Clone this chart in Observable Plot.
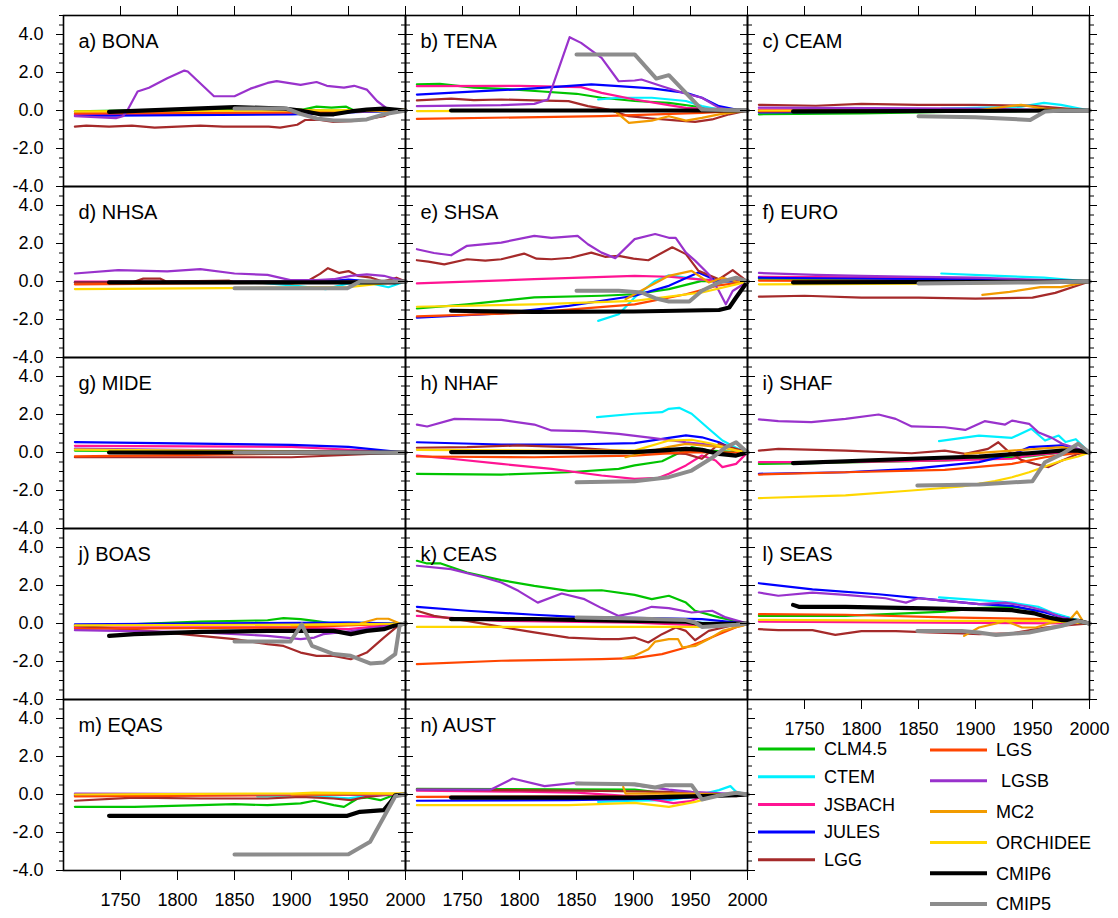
<!DOCTYPE html>
<html><head><meta charset="utf-8">
<script src="https://cdn.jsdelivr.net/npm/d3@7"></script>
<script src="https://cdn.jsdelivr.net/npm/@observablehq/plot@0.6"></script>
<style>
body{margin:0;background:#fff;}
#wrap{position:relative;width:1118px;height:918px;font-family:"Liberation Sans",Arial,Helvetica,sans-serif;}
#legend{position:absolute;left:0;top:0;pointer-events:none;}
</style></head><body><div id="wrap"></div>
<script>
// ---------- series / legend ----------
const models = ["CLM4.5","CTEM","JSBACH","JULES","LGG","LGS","LGSB","MC2","ORCHIDEE","CMIP6","CMIP5"];
const legendLabels = ["CLM4.5","CTEM","JSBACH","JULES","LGG","LGS"," LGSB","MC2","ORCHIDEE","CMIP6","CMIP5"];
const colors = ["#00c400","#00f0ff","#ff1493","#0000ff","#a52a2a","#ff4500","#9932cc","#f29b00","#ffd700","#000000","#8c8c8c"];
const panelNames = ["a) BONA","b) TENA","c) CEAM","d) NHSA","e) SHSA","f) EURO","g) MIDE","h) NHAF","i) SHAF","j) BOAS","k) CEAS","l) SEAS","m) EQAS","n) AUST"];
const xTicks = [1750,1800,1850,1900,1950,2000];
const yTicks = [-4,-2,0,2,4];
const yMinorTicks = [-3.5,-3,-2.5,-1.5,-1,-0.5,0.5,1,1.5,2.5,3,3.5,4.5,5];

// ---------- values per panel: [year, value] ----------
const BONA = {
 "CLM4.5":[[1710,-0.05],[1800,0.05],[1850,0.1],[1910,0.05],[1922,0.2],[1935,0.15],[1948,0.2],[1955,0.0],[1975,-0.05],[2000,0]],
 "CTEM":[[1870,0.05],[1950,0.0],[2000,0]],
 "JSBACH":[[1710,-0.2],[1900,-0.15],[2000,0]],
 "JULES":[[1710,-0.28],[1900,-0.2],[2000,0]],
 "LGG":[[1710,-0.85],[1720,-0.8],[1740,-0.85],[1760,-0.8],[1780,-0.9],[1800,-0.85],[1820,-0.8],[1840,-0.85],[1860,-0.85],[1880,-0.85],[1890,-0.9],[1905,-0.75],[1912,-0.5],[1925,-0.5],[1937,-0.6],[1955,-0.55],[1966,-0.45],[1981,-0.3],[1990,-0.05],[2000,0]],
 "LGS":[[1710,-0.15],[1900,-0.1],[2000,0]],
 "LGSB":[[1710,-0.3],[1746,-0.4],[1752,-0.3],[1756,0],[1765,1.0],[1775,1.2],[1791,1.7],[1806,2.1],[1809,2.05],[1832,0.75],[1850,0.75],[1864,1.15],[1879,1.45],[1887,1.55],[1908,1.35],[1922,1.5],[1931,1.3],[1946,1.2],[1955,1.3],[1966,1.1],[1975,0.5],[1985,0.05],[2000,0]],
 "MC2":[[1900,0.05],[1950,-0.05],[2000,0]],
 "ORCHIDEE":[[1710,-0.05],[1900,0],[2000,0.05]],
 "CMIP6":[[1740,-0.07],[1850,0.18],[1893,0.1],[1908,0.0],[1925,-0.2],[1937,-0.2],[1952,-0.05],[1966,0.05],[1981,0.1],[2000,0]],
 "CMIP5":[[1850,0.1],[1896,0.1],[1908,-0.18],[1922,-0.42],[1937,-0.52],[1952,-0.52],[1966,-0.47],[1981,-0.2],[2000,0]]
};
const TENA = {
 "CLM4.5":[[1710,1.37],[1730,1.4],[1760,1.2],[1790,1.12],[1820,1.0],[1850,0.88],[1872,0.67],[1901,0.5],[1931,0.4],[1950,0.25],[1966,0.1],[2000,0]],
 "CTEM":[[1869,0.58],[1887,0.67],[1916,0.67],[1946,0.5],[1960,0.23],[1975,0.05],[2000,0]],
 "JSBACH":[[1710,1.28],[1800,1.3],[1854,1.23],[1872,0.93],[1901,0.58],[1931,0.28],[1946,0.14],[1975,0.05],[2000,0]],
 "JULES":[[1710,0.84],[1754,0.98],[1813,1.16],[1863,1.37],[1887,1.28],[1916,1.16],[1946,0.93],[1960,0.67],[1975,0.23],[1990,0.05],[2000,0]],
 "LGG":[[1710,0.53],[1740,0.63],[1760,0.55],[1784,0.58],[1813,0.53],[1843,0.49],[1860,0.23],[1878,0.05],[1896,-0.3],[1916,-0.42],[1937,-0.52],[1954,-0.6],[1969,-0.47],[1984,-0.2],[2000,0]],
 "LGS":[[1710,-0.44],[1872,-0.3],[1960,-0.12],[2000,0]],
 "LGSB":[[1710,0.23],[1784,0.28],[1813,0.35],[1825,0.58],[1844,3.86],[1854,3.56],[1872,2.77],[1887,1.54],[1901,1.58],[1907,1.63],[1925,1.28],[1946,0.88],[1960,0.67],[1975,0.14],[1990,0],[2000,0]],
 "MC2":[[1884,-0.05],[1896,-0.65],[1916,-0.53],[1931,-0.3],[1946,-0.53],[1960,-0.39],[1975,-0.2],[2000,0]],
 "ORCHIDEE":[[1710,-0.03],[2000,0]],
 "CMIP6":[[1740,0],[2000,0]],
 "CMIP5":[[1850,2.95],[1901,2.95],[1920,1.68],[1931,1.86],[1960,0.05],[2000,0]]
};
const CEAM = {
 "CLM4.5":[[1710,-0.2],[1800,-0.15],[1900,-0.05],[2000,0]],
 "CTEM":[[1870,0.1],[1940,0.2],[1960,0.4],[1975,0.3],[2000,0]],
 "JSBACH":[[1710,0.05],[2000,0]],
 "JULES":[[1710,-0.1],[2000,0]],
 "LGG":[[1710,0.3],[1760,0.25],[1800,0.35],[1850,0.3],[1900,0.3],[1950,0.25],[1980,0.1],[2000,0]],
 "LGS":[[1710,-0.05],[2000,0]],
 "LGSB":[[1710,0.15],[1900,0.1],[2000,0]],
 "MC2":[[1900,0.0],[1940,0.3],[1960,0.1],[2000,0]],
 "ORCHIDEE":[[1710,0.0],[2000,0]],
 "CMIP6":[[1740,-0.05],[2000,0]],
 "CMIP5":[[1850,-0.3],[1900,-0.35],[1948,-0.5],[1961,-0.05],[1975,0],[2000,0]]
};
const NHSA = {
 "CLM4.5":[[1710,-0.05],[1900,0],[1950,0.05],[2000,0]],
 "CTEM":[[1870,-0.05],[1900,-0.2],[1930,-0.4],[1950,-0.1],[1970,-0.1],[1985,-0.3],[2000,0]],
 "JSBACH":[[1710,0],[1900,0],[2000,0]],
 "JULES":[[1710,-0.05],[1930,0],[1950,0.1],[1970,0],[2000,0]],
 "LGG":[[1710,-0.05],[1760,-0.05],[1770,0.15],[1785,0.15],[1790,0],[1845,0.05],[1850,-0.05],[1900,-0.1],[1915,0.05],[1925,0.4],[1932,0.7],[1942,0.45],[1950,0.55],[1958,0.3],[1970,0.2],[1980,0],[1992,0.2],[2000,0]],
 "LGS":[[1710,-0.15],[2000,0]],
 "LGSB":[[1710,0.42],[1748,0.6],[1791,0.53],[1820,0.65],[1850,0.42],[1879,0.35],[1899,0.07],[1922,0.07],[1937,0.12],[1952,0.3],[1966,0.38],[1981,0.3],[1995,0.07],[2000,0]],
 "MC2":[[1900,-0.1],[1950,0],[2000,0]],
 "ORCHIDEE":[[1710,-0.4],[1950,-0.3],[1980,-0.1],[2000,0]],
 "CMIP6":[[1740,-0.05],[1990,-0.05],[2000,0]],
 "CMIP5":[[1850,-0.35],[1949,-0.35],[1960,0],[2000,0]]
};
const SHSA = {
 "CLM4.5":[[1710,-1.42],[1754,-1.2],[1813,-0.84],[1872,-0.75],[1901,-0.67],[1931,-0.4],[1960,0.03],[2000,0]],
 "CTEM":[[1869,-2.07],[1887,-1.72],[1901,-0.84],[1919,0.03],[1931,0.33],[1946,0.2],[1960,0.1],[2000,0]],
 "JSBACH":[[1710,-0.1],[1813,0.12],[1901,0.3],[1931,0.25],[1960,0.1],[2000,0]],
 "JULES":[[1710,-1.9],[1784,-1.68],[1843,-1.28],[1901,-0.75],[1931,-0.23],[1957,0.47],[1975,0],[2000,0]],
 "LGG":[[1710,1.12],[1720,1.05],[1734,0.9],[1754,1.17],[1770,1.1],[1784,1.17],[1804,1.47],[1815,1.2],[1828,1.17],[1845,1.25],[1863,1.52],[1875,1.3],[1887,1.35],[1900,1.2],[1913,1.12],[1934,1.8],[1946,1.44],[1957,0.56],[1975,0.12],[1987,0.6],[2000,0]],
 "LGS":[[1710,-1.84],[1813,-1.63],[1901,-1.2],[1946,-0.67],[1975,-0.2],[2000,0]],
 "LGSB":[[1710,1.7],[1725,1.5],[1740,1.38],[1754,1.88],[1784,2.05],[1813,2.4],[1828,2.3],[1851,2.4],[1860,1.96],[1872,1.52],[1884,1.23],[1901,2.23],[1919,2.5],[1931,2.3],[1937,2.3],[1946,1.52],[1954,1.1],[1966,0.38],[1975,-0.5],[1981,-1.2],[1987,-0.5],[2000,0]],
 "MC2":[[1893,-0.93],[1901,-0.67],[1931,0.3],[1951,0.56],[1966,-0.05],[1978,0.2],[1990,0],[2000,0]],
 "ORCHIDEE":[[1710,-1.33],[1813,-1.2],[1901,-1.02],[1960,-0.58],[1990,-0.15],[2000,0]],
 "CMIP6":[[1740,-1.54],[1813,-1.6],[1900,-1.58],[1975,-1.5],[1984,-1.37],[1990,-0.84],[2000,0]],
 "CMIP5":[[1850,-0.49],[1887,-0.49],[1907,-0.58],[1919,-0.88],[1931,-1.05],[1949,-1.05],[1960,-0.49],[1975,-0.05],[1990,0.2],[2000,0]]
};
const EURO = {
 "CLM4.5":[[1710,0.15],[1900,0.1],[2000,0]],
 "CTEM":[[1870,0.42],[1920,0.3],[1960,0.2],[2000,0]],
 "JSBACH":[[1710,0.25],[1850,0.2],[2000,0]],
 "JULES":[[1710,0.2],[1900,0.1],[2000,0]],
 "LGG":[[1710,-0.8],[1750,-0.75],[1800,-0.85],[1850,-0.85],[1900,-0.9],[1950,-0.85],[1970,-0.6],[2000,0]],
 "LGS":[[1710,0.05],[2000,0]],
 "LGSB":[[1710,0.45],[1760,0.35],[1800,0.3],[1850,0.25],[1900,0.2],[1950,0.1],[2000,0]],
 "MC2":[[1906,-0.7],[1930,-0.55],[1957,-0.3],[1975,-0.3],[2000,0]],
 "ORCHIDEE":[[1710,-0.15],[1900,-0.1],[2000,0]],
 "CMIP6":[[1740,-0.05],[2000,0]],
 "CMIP5":[[1850,-0.1],[1950,-0.05],[2000,0]]
};
const MIDE = {
 "CLM4.5":[[1710,0.1],[2000,0]],
 "CTEM":[[1870,0.05],[2000,0]],
 "JSBACH":[[1710,0.35],[1900,0.3],[2000,0]],
 "JULES":[[1710,0.55],[1800,0.48],[1900,0.4],[1950,0.3],[2000,0]],
 "LGG":[[1710,-0.25],[1900,-0.25],[2000,0]],
 "LGS":[[1710,-0.2],[2000,0]],
 "LGSB":[[1710,0.2],[2000,0]],
 "MC2":[[1900,0.0],[2000,0]],
 "ORCHIDEE":[[1710,0.15],[2000,0]],
 "CMIP6":[[1740,0],[2000,0]],
 "CMIP5":[[1850,0],[2000,0]]
};
const NHAF = {
 "CLM4.5":[[1710,-1.12],[1784,-1.16],[1843,-1.04],[1887,-0.86],[1901,-0.68],[1925,-0.46],[1937,-0.1],[1951,0.28],[1966,0.1],[2000,0]],
 "CTEM":[[1868,1.86],[1901,2.04],[1925,2.12],[1931,2.3],[1940,2.35],[1951,2.04],[1966,1.25],[1978,0.63],[1990,0.25],[2000,0]],
 "JSBACH":[[1710,-0.16],[1740,-0.33],[1784,-0.6],[1828,-0.86],[1872,-1.21],[1901,-1.39],[1922,-1.33],[1931,-1.12],[1946,-0.68],[1960,-0.16],[1972,-0.42],[1978,-0.77],[1990,-0.6],[2000,0]],
 "JULES":[[1710,0.54],[1784,0.42],[1843,0.42],[1901,0.49],[1931,0.77],[1946,0.9],[1960,0.8],[1975,0.54],[1990,0.1],[2000,0]],
 "LGG":[[1710,0.25],[1754,0.28],[1798,0.37],[1843,0.28],[1863,0.19],[1900,0.05],[1946,-0.07],[1960,-0.33],[1975,0.46],[1990,0.2],[2000,0]],
 "LGS":[[1710,-0.21],[1813,-0.25],[1901,-0.16],[1946,0.02],[2000,0]],
 "LGSB":[[1710,1.47],[1719,1.37],[1743,1.77],[1784,1.72],[1813,1.47],[1828,1.16],[1857,1.12],[1887,0.98],[1916,0.77],[1946,0.54],[1975,0.37],[1990,0.1],[2000,0]],
 "MC2":[[1893,-0.25],[1931,0.3],[1946,0.45],[1975,0.3],[2000,0]],
 "ORCHIDEE":[[1710,0.14],[1813,0.1],[1901,0.1],[1931,0.63],[1951,0.67],[1969,0.46],[1990,0.1],[2000,0]],
 "CMIP6":[[1740,0.02],[1901,0.02],[1946,0.19],[1960,0.14],[1975,-0.07],[1990,-0.16],[2000,0]],
 "CMIP5":[[1850,-1.56],[1901,-1.51],[1931,-1.3],[1951,-0.95],[1969,-0.28],[1981,0.28],[1990,0.54],[2000,0]]
};
const SHAF = {
 "CLM4.5":[[1710,-0.6],[1756,-0.56],[1873,-0.42],[1947,-0.21],[1976,0],[2000,0]],
 "CTEM":[[1868,0.6],[1903,0.89],[1932,0.77],[1949,1.25],[1961,0.63],[1973,0.89],[1979,0.55],[1988,0.7],[2000,0]],
 "JSBACH":[[1710,-0.51],[1786,-0.51],[1873,-0.42],[1932,-0.33],[1947,-0.16],[1976,0],[2000,0]],
 "JULES":[[1710,-1.12],[1786,-1.04],[1844,-0.86],[1903,-0.51],[1932,-0.1],[1947,0.28],[1976,0.37],[1990,0.1],[2000,0]],
 "LGG":[[1710,0.1],[1727,0.19],[1786,0.1],[1844,-0.04],[1873,0.1],[1891,-0.07],[1911,0.19],[1920,0.54],[1928,0.1],[1940,-0.39],[1952,-0.6],[1964,-0.77],[1973,-0.5],[1990,-0.07],[2000,0]],
 "LGS":[[1710,-1.16],[1786,-1.04],[1873,-0.91],[1932,-0.6],[1961,-0.25],[1990,-0.02],[2000,0]],
 "LGSB":[[1710,1.74],[1727,1.65],[1756,1.6],[1786,1.77],[1815,2.0],[1830,1.77],[1844,1.37],[1873,1.33],[1891,1.19],[1908,1.65],[1926,1.47],[1932,1.68],[1947,1.51],[1955,1.07],[1967,0.77],[1976,0.46],[1990,0.2],[2000,0]],
 "MC2":[[1891,-0.07],[1932,0.1],[1976,0.28],[2000,0]],
 "ORCHIDEE":[[1710,-2.4],[1786,-2.26],[1844,-2.0],[1888,-1.79],[1917,-1.51],[1932,-1.3],[1947,-1.04],[1961,-0.74],[1976,-0.42],[1990,-0.21],[2000,0]],
 "CMIP6":[[1740,-0.56],[1786,-0.46],[1844,-0.33],[1903,-0.21],[1947,-0.04],[1976,0.1],[1990,0.1],[2000,0]],
 "CMIP5":[[1849,-1.74],[1903,-1.68],[1950,-1.51],[1961,-0.51],[1976,-0.07],[1990,0.46],[2000,0]]
};
const BOAS = {
 "CLM4.5":[[1710,-0.17],[1774,0],[1820,0.1],[1879,0.17],[1893,0.28],[1908,0.23],[1920,0.14],[1937,0],[2000,0]],
 "CTEM":[[1870,0],[1950,0.05],[2000,0]],
 "JSBACH":[[1710,-0.2],[1900,-0.2],[1950,-0.3],[2000,0]],
 "JULES":[[1710,-0.05],[1950,0.05],[2000,0]],
 "LGG":[[1710,-0.12],[1774,-0.39],[1820,-0.65],[1850,-0.82],[1879,-1.09],[1893,-1.18],[1908,-1.53],[1922,-1.7],[1937,-1.7],[1952,-1.88],[1966,-1.53],[1981,-0.74],[1995,-0.05],[2000,0]],
 "LGS":[[1710,-0.28],[1900,-0.2],[2000,0]],
 "LGSB":[[1710,-0.35],[1820,-0.47],[1879,-0.65],[1908,-0.82],[1920,-0.74],[1928,-0.56],[1952,-0.4],[2000,0]],
 "MC2":[[1900,-0.1],[1960,0],[1975,0.25],[1985,0.25],[1995,0],[2000,0]],
 "ORCHIDEE":[[1710,-0.1],[1950,-0.05],[2000,0]],
 "CMIP6":[[1740,-0.65],[1762,-0.56],[1820,-0.44],[1879,-0.39],[1937,-0.39],[1952,-0.56],[1966,-0.39],[1981,-0.3],[1990,-0.12],[2000,0]],
 "CMIP5":[[1850,-0.95],[1899,-0.95],[1909,-0.04],[1918,-1.18],[1937,-1.61],[1952,-1.7],[1969,-2.1],[1981,-2.05],[1991,-1.61],[1995,-0.05],[2000,0]]
};
const CEAS = {
 "CLM4.5":[[1710,3.3],[1719,3.16],[1731,3.16],[1754,2.68],[1784,2.28],[1813,1.98],[1843,1.72],[1872,1.75],[1901,1.51],[1916,1.28],[1931,1.46],[1946,1.1],[1954,0.67],[1975,0.32],[2000,0]],
 "CTEM":[[1870,0.1],[1950,0.05],[2000,0]],
 "JSBACH":[[1710,0.4],[1784,0.14],[1901,0.05],[1960,-0.1],[2000,0]],
 "JULES":[[1710,0.88],[1754,0.67],[1813,0.46],[1849,0.35],[1900,0.3],[1960,0.23],[2000,0]],
 "LGG":[[1710,0.67],[1725,0.4],[1754,0.14],[1784,-0.18],[1813,-0.47],[1843,-0.74],[1872,-0.82],[1887,-0.82],[1901,-0.74],[1913,-1.0],[1925,-0.56],[1937,-0.21],[1946,-0.39],[1954,-0.88],[1966,-0.39],[1990,-0.05],[2000,0]],
 "LGS":[[1710,-2.14],[1784,-1.96],[1872,-1.88],[1901,-1.82],[1925,-1.61],[1946,-1.26],[1960,-0.95],[1975,-0.56],[1990,-0.2],[2000,0]],
 "LGSB":[[1710,3.04],[1740,2.86],[1769,2.42],[1784,2.16],[1799,1.72],[1816,1.1],[1837,1.58],[1857,1.28],[1872,0.81],[1887,0.4],[1901,0.58],[1916,0.88],[1931,0.81],[1951,0.58],[1969,0.67],[1981,0.32],[2000,0]],
 "MC2":[[1891,-1.82],[1901,-1.7],[1913,-1.35],[1919,-0.95],[1931,-0.82],[1939,-0.82],[1943,-1.26],[1954,-1.18],[1966,-0.82],[1978,-0.39],[1990,-0.2],[1996,-0.12],[2000,0]],
 "ORCHIDEE":[[1710,-0.18],[1960,-0.18],[2000,0]],
 "CMIP6":[[1740,0.23],[1813,0.23],[1901,0.14],[1946,0.1],[1960,-0.03],[2000,0]],
 "CMIP5":[[1850,0.32],[1901,0.26],[1946,0.18],[1954,0.05],[1960,-0.18],[1990,-0.07],[2000,0]]
};
const SEAS = {
 "CLM4.5":[[1710,0.4],[1786,0.4],[1874,0.63],[1903,0.81],[1932,0.88],[1961,0.63],[2000,0]],
 "CTEM":[[1868,1.37],[1903,1.23],[1932,1.1],[1955,0.88],[1967,0.58],[2000,0]],
 "JSBACH":[[1710,0.1],[2000,0]],
 "JULES":[[1710,2.12],[1757,1.8],[1815,1.54],[1859,1.28],[1903,1.02],[1932,0.93],[1961,0.58],[1976,0.32],[2000,0]],
 "LGG":[[1710,-0.3],[1727,-0.35],[1757,-0.35],[1777,-0.6],[1800,-0.4],[1830,-0.4],[1859,-0.47],[1888,-0.52],[1903,-0.56],[1932,-0.52],[1961,-0.21],[1976,-0.12],[2000,0]],
 "LGS":[[1710,0.49],[1786,0.46],[1874,0.32],[1961,0.23],[2000,0]],
 "LGSB":[[1710,1.63],[1727,1.46],[1757,1.63],[1786,1.51],[1821,1.33],[1839,1.1],[1850,1.33],[1874,1.19],[1903,1.02],[1926,1.1],[1947,0.88],[1961,0.67],[1976,0.32],[2000,0]],
 "MC2":[[1890,-0.65],[1903,-0.21],[1918,0],[1926,0.14],[1941,-0.21],[1953,-0.21],[1967,0.05],[1982,0.14],[1989,0.63],[1994,0.14],[2000,0]],
 "ORCHIDEE":[[1710,0.19],[1874,0.14],[1961,0.14],[2000,0]],
 "CMIP6":[[1740,0.98],[1745,0.88],[1786,0.88],[1844,0.81],[1903,0.75],[1932,0.7],[1952,0.53],[1967,0.28],[1976,0.18],[1990,0.14],[2000,0]],
 "CMIP5":[[1849,-0.39],[1888,-0.39],[1903,-0.47],[1918,-0.6],[1947,-0.47],[1961,-0.3],[1976,-0.12],[1990,0.14],[2000,0]]
};
const EQAS = {
 "CLM4.5":[[1710,-0.65],[1762,-0.65],[1820,-0.56],[1850,-0.51],[1879,-0.56],[1908,-0.47],[1920,-0.33],[1937,-0.56],[1946,-0.65],[1958,-0.21],[1966,-0.16],[1978,-0.3],[1987,-0.09],[2000,0]],
 "CTEM":[[1870,-0.1],[1920,-0.1],[1950,-0.2],[1970,-0.05],[2000,0]],
 "JSBACH":[[1710,0],[2000,0]],
 "JULES":[[1710,-0.05],[2000,0]],
 "LGG":[[1710,-0.33],[1762,-0.16],[1820,-0.21],[1879,-0.21],[1908,-0.12],[1937,-0.21],[1952,-0.3],[1966,-0.12],[1981,-0.04],[2000,0]],
 "LGS":[[1710,-0.1],[2000,0]],
 "LGSB":[[1710,0.05],[2000,0]],
 "MC2":[[1900,0],[2000,0.05]],
 "ORCHIDEE":[[1710,0],[1900,0.05],[1920,0.1],[2000,0.05]],
 "CMIP6":[[1740,-1.12],[1949,-1.12],[1960,-0.91],[1972,-0.86],[1981,-0.82],[1987,-0.39],[1991,-0.04],[2000,0]],
 "CMIP5":[[1850,-3.16],[1950,-3.14],[1969,-2.49],[1981,-1.18],[1991,-0.09],[2000,0]]
};
const AUST = {
 "CLM4.5":[[1710,0.3],[1901,0.26],[1931,0.05],[1960,-0.03],[2000,0]],
 "CTEM":[[1869,-0.39],[1901,-0.33],[1931,-0.3],[1951,-0.12],[1975,0.23],[1985,0.44],[1990,0.14],[2000,0]],
 "JSBACH":[[1710,0.2],[1800,0.15],[1850,0.1],[1900,-0.1],[1920,-0.3],[1935,-0.45],[1950,-0.35],[1960,-0.1],[2000,0]],
 "JULES":[[1710,-0.33],[1843,-0.3],[1931,-0.21],[2000,0]],
 "LGG":[[1710,0.26],[1784,0.23],[1872,0.19],[1931,0.14],[1960,0.02],[1990,-0.09],[2000,0]],
 "LGS":[[1710,-0.12],[1900,-0.1],[2000,0]],
 "LGSB":[[1710,0.26],[1775,0.26],[1794,0.84],[1822,0.44],[1849,0.61],[1872,0.58],[1901,0.49],[1931,0.26],[1951,0.14],[2000,0]],
 "MC2":[[1891,0.4],[1893,0.05],[1950,0.05],[2000,0]],
 "ORCHIDEE":[[1710,-0.56],[1843,-0.56],[1901,-0.44],[1931,-0.65],[1954,-0.39],[1975,-0.05],[2000,0]],
 "CMIP6":[[1740,-0.16],[1901,-0.16],[1960,-0.09],[1990,-0.04],[2000,0]],
 "CMIP5":[[1850,0.58],[1901,0.54],[1919,0.37],[1928,0.49],[1951,0.49],[1960,-0.26],[1975,-0.05],[1990,0.09],[2000,0]]
};
const panelData = [BONA,TENA,CEAM,NHSA,SHSA,EURO,MIDE,NHAF,SHAF,BOAS,CEAS,SEAS,EQAS,AUST];

// ---------- build table ----------
const rows = [];
panelData.forEach((p, i) => {
  for (const m of models) {
    const s = p[m]; if (!s) continue;
    for (const [year, value] of s) rows.push({col: i % 3, row: Math.floor(i / 3), model: m, year, value});
  }
});
const titles = panelNames.map((t, i) => ({title: t, col: i % 3, row: Math.floor(i / 3)}));
const modelRows = rows.filter(d => d.model !== "CMIP6" && d.model !== "CMIP5");
const cmip6Rows = rows.filter(d => d.model === "CMIP6");
const cmip5Rows = rows.filter(d => d.model === "CMIP5");

const FONT = "'Liberation Sans', Arial, Helvetica, sans-serif";
const chart = Plot.plot({
  width: 1118, height: 918,
  marginLeft: 62, marginRight: 29, marginTop: 14, marginBottom: 47,
  style: {fontFamily: FONT, background: "white", overflow: "visible"},
  fx: {domain: [0, 1, 2], padding: 0, axis: null},
  fy: {domain: [0, 1, 2, 3, 4], padding: 0, axis: null},
  x: {domain: [1700, 2000]},
  y: {domain: [-4, 5]},
  color: {domain: models, range: colors},
  marks: [
    Plot.line(modelRows, {x: "year", y: "value", z: "model", stroke: "model", strokeWidth: 2.2, fx: "col", fy: "row"}),
    Plot.line(cmip6Rows, {x: "year", y: "value", stroke: "model", strokeWidth: 4.2, fx: "col", fy: "row"}),
    Plot.line(cmip5Rows, {x: "year", y: "value", stroke: "model", strokeWidth: 4, fx: "col", fy: "row"}),
    Plot.text(titles, {fx: "col", fy: "row", text: "title", frameAnchor: "top-left", dx: 15, dy: 18, lineAnchor: "top", fontSize: 20, fill: "black"}),
    Plot.frame({stroke: "black", strokeWidth: 1.6}),
    // y ticks, both sides of every panel (outward)
    Plot.axisY(yTicks, {anchor: "left", facetAnchor: null, tickSize: 7, fill: "none", stroke: "black", label: null}),
    Plot.axisY(yMinorTicks, {anchor: "left", facetAnchor: null, tickSize: 4, fill: "none", stroke: "black", label: null}),
    Plot.axisY(yTicks, {anchor: "right", facetAnchor: null, tickSize: 7, fill: "none", stroke: "black", label: null}),
    Plot.axisY(yMinorTicks, {anchor: "right", facetAnchor: null, tickSize: 4, fill: "none", stroke: "black", label: null}),
    // y labels on left column
    Plot.axisY(yTicks, {anchor: "left", facetAnchor: "left", tickSize: 0, tickPadding: 20, tickFormat: d => d.toFixed(1), fontSize: 18, fill: "black", label: null}),
    // x ticks
    Plot.axisX(xTicks, {anchor: "top", facetAnchor: "top", tickSize: 10, fill: "none", stroke: "black", label: null}),
    Plot.axisX(xTicks, {anchor: "bottom", facetAnchor: "bottom-empty", tickSize: 10, tickPadding: 13, tickFormat: d => String(d), fontSize: 18, fill: "black", stroke: "black", label: null})
  ]
});
const wrap = document.getElementById("wrap");
wrap.appendChild(chart);

// ---------- legend (overlay in the empty bottom-right cell) ----------
const legend = d3.select(wrap).append("svg").attr("id", "legend").attr("width", 1118).attr("height", 918)
  .style("font-family", FONT);
models.forEach((m, i) => {
  const second = i >= 5;
  const k = second ? i - 5 : i;
  const x0 = second ? 930 : 758;
  const y = second ? 750 + k * 30.8 : 749 + k * 27.7;
  legend.append("line").attr("x1", x0).attr("x2", x0 + 57).attr("y1", y).attr("y2", y)
    .attr("stroke", colors[i]).attr("stroke-width", m.startsWith("CMIP") ? 4 : 3);
  legend.append("text").attr("x", x0 + 66).attr("y", y).attr("dy", "0.35em")
    .attr("font-size", 18).attr("fill", "black").style("white-space", "pre").text(legendLabels[i]);
});
</script></body></html>
